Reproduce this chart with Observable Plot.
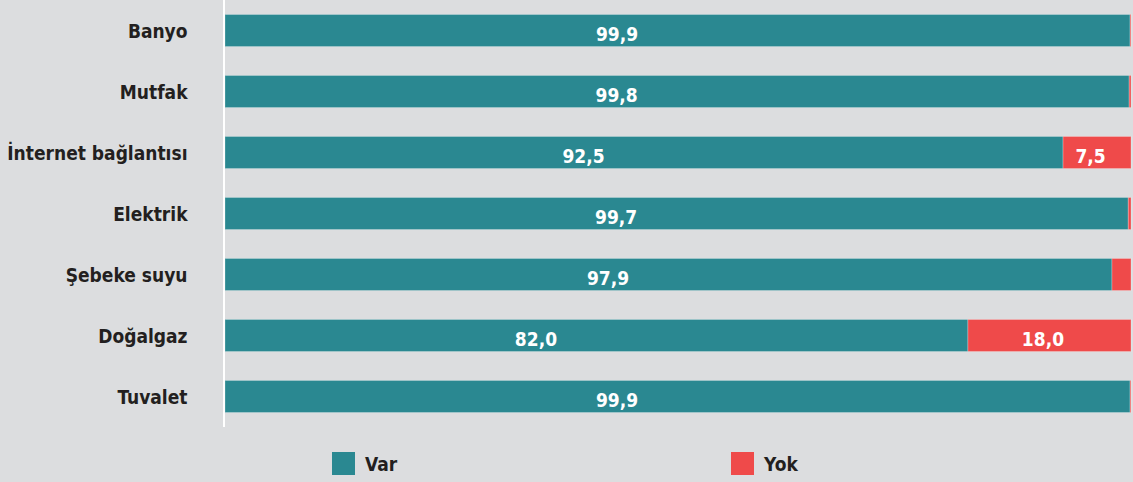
<!DOCTYPE html>
<html>
<head>
<meta charset="utf-8">
<script src="https://cdn.jsdelivr.net/npm/d3@7"></script>
<script src="https://cdn.jsdelivr.net/npm/@observablehq/plot@0.6"></script>
<style>
  html, body { margin: 0; padding: 0; background: #dcdddf; }
  body { width: 1133px; height: 482px; overflow: hidden; font-family: "DejaVu Sans Condensed", "DejaVu Sans", sans-serif; font-stretch: condensed; }
  #legend { position: relative; height: 42px; }
  .item { position: absolute; top: 12px; display: flex; align-items: center; font-weight: bold; font-size: 19px; color: #231f20; }
  .sw { width: 23px; height: 23px; margin-right: 10px; }
</style>
</head>
<body>
<div id="chart"></div>
<div id="legend"></div>
<script>
const items = ["Banyo", "Mutfak", "İnternet bağlantısı", "Elektrik", "Şebeke suyu", "Doğalgaz", "Tuvalet"];
const varValues = [99.9, 99.8, 92.5, 99.7, 97.9, 82.0, 99.9];
const yokValues = [0.1, 0.2, 7.5, 0.3, 2.1, 18.0, 0.1];
const statuses = ["Var", "Yok"];
const colors = ["#2a8891", "#ef4a4a"];

const rows = [];
items.forEach((item, i) => {
  rows.push({item, status: "Var", value: varValues[i]});
  rows.push({item, status: "Yok", value: yokValues[i]});
});
const fmt = v => v.toFixed(1).replace(".", ",");
const font = '"DejaVu Sans Condensed", "DejaVu Sans", sans-serif';

const chart = Plot.plot({
  width: 1133,
  height: 440,
  marginLeft: 225,
  marginRight: 2,
  marginTop: 0,
  marginBottom: 13,
  style: {background: "transparent", fontFamily: font, fontStretch: "condensed"},
  x: {domain: [0, 100], axis: null},
  y: {domain: items, paddingInner: 0.475, paddingOuter: 0.2377, round: false, label: null},
  color: {domain: statuses, range: colors},
  marks: [
    Plot.barX(rows, Plot.stackX({x: "value", y: "item", z: "status", fill: "status", stroke: "white", strokeOpacity: 0.25, strokeWidth: 1})),
    Plot.textX(rows, Plot.stackX({x: "value", y: "item", z: "status",
      text: d => d.status === "Var" ? fmt(d.value) : null,
      fill: "white", fontSize: 19, fontWeight: "bold", dx: -61, dy: 3.5})),
    Plot.textX(rows, Plot.stackX({x: "value", y: "item", z: "status",
      text: d => d.status === "Yok" && d.value >= 5 ? fmt(d.value) : null,
      fill: "white", fontSize: 19, fontWeight: "bold", dx: -7, dy: 3.5})),
    Plot.axisY({tickSize: 0, tickPadding: 38, fontSize: 19, fontWeight: "bold", color: "#231f20", label: null, dy: 1}),
    Plot.ruleX([0], {stroke: "white", strokeWidth: 2, dx: -1.5})
  ]
});
document.getElementById("chart").appendChild(chart);

const legend = document.getElementById("legend");
const lefts = [332, 731];
statuses.forEach((s, i) => {
  const el = document.createElement("div");
  el.className = "item";
  el.style.left = lefts[i] + "px";
  const sw = document.createElement("div");
  sw.className = "sw";
  sw.style.background = colors[i];
  el.appendChild(sw);
  el.appendChild(document.createTextNode(s));
  legend.appendChild(el);
});
</script>
</body>
</html>
